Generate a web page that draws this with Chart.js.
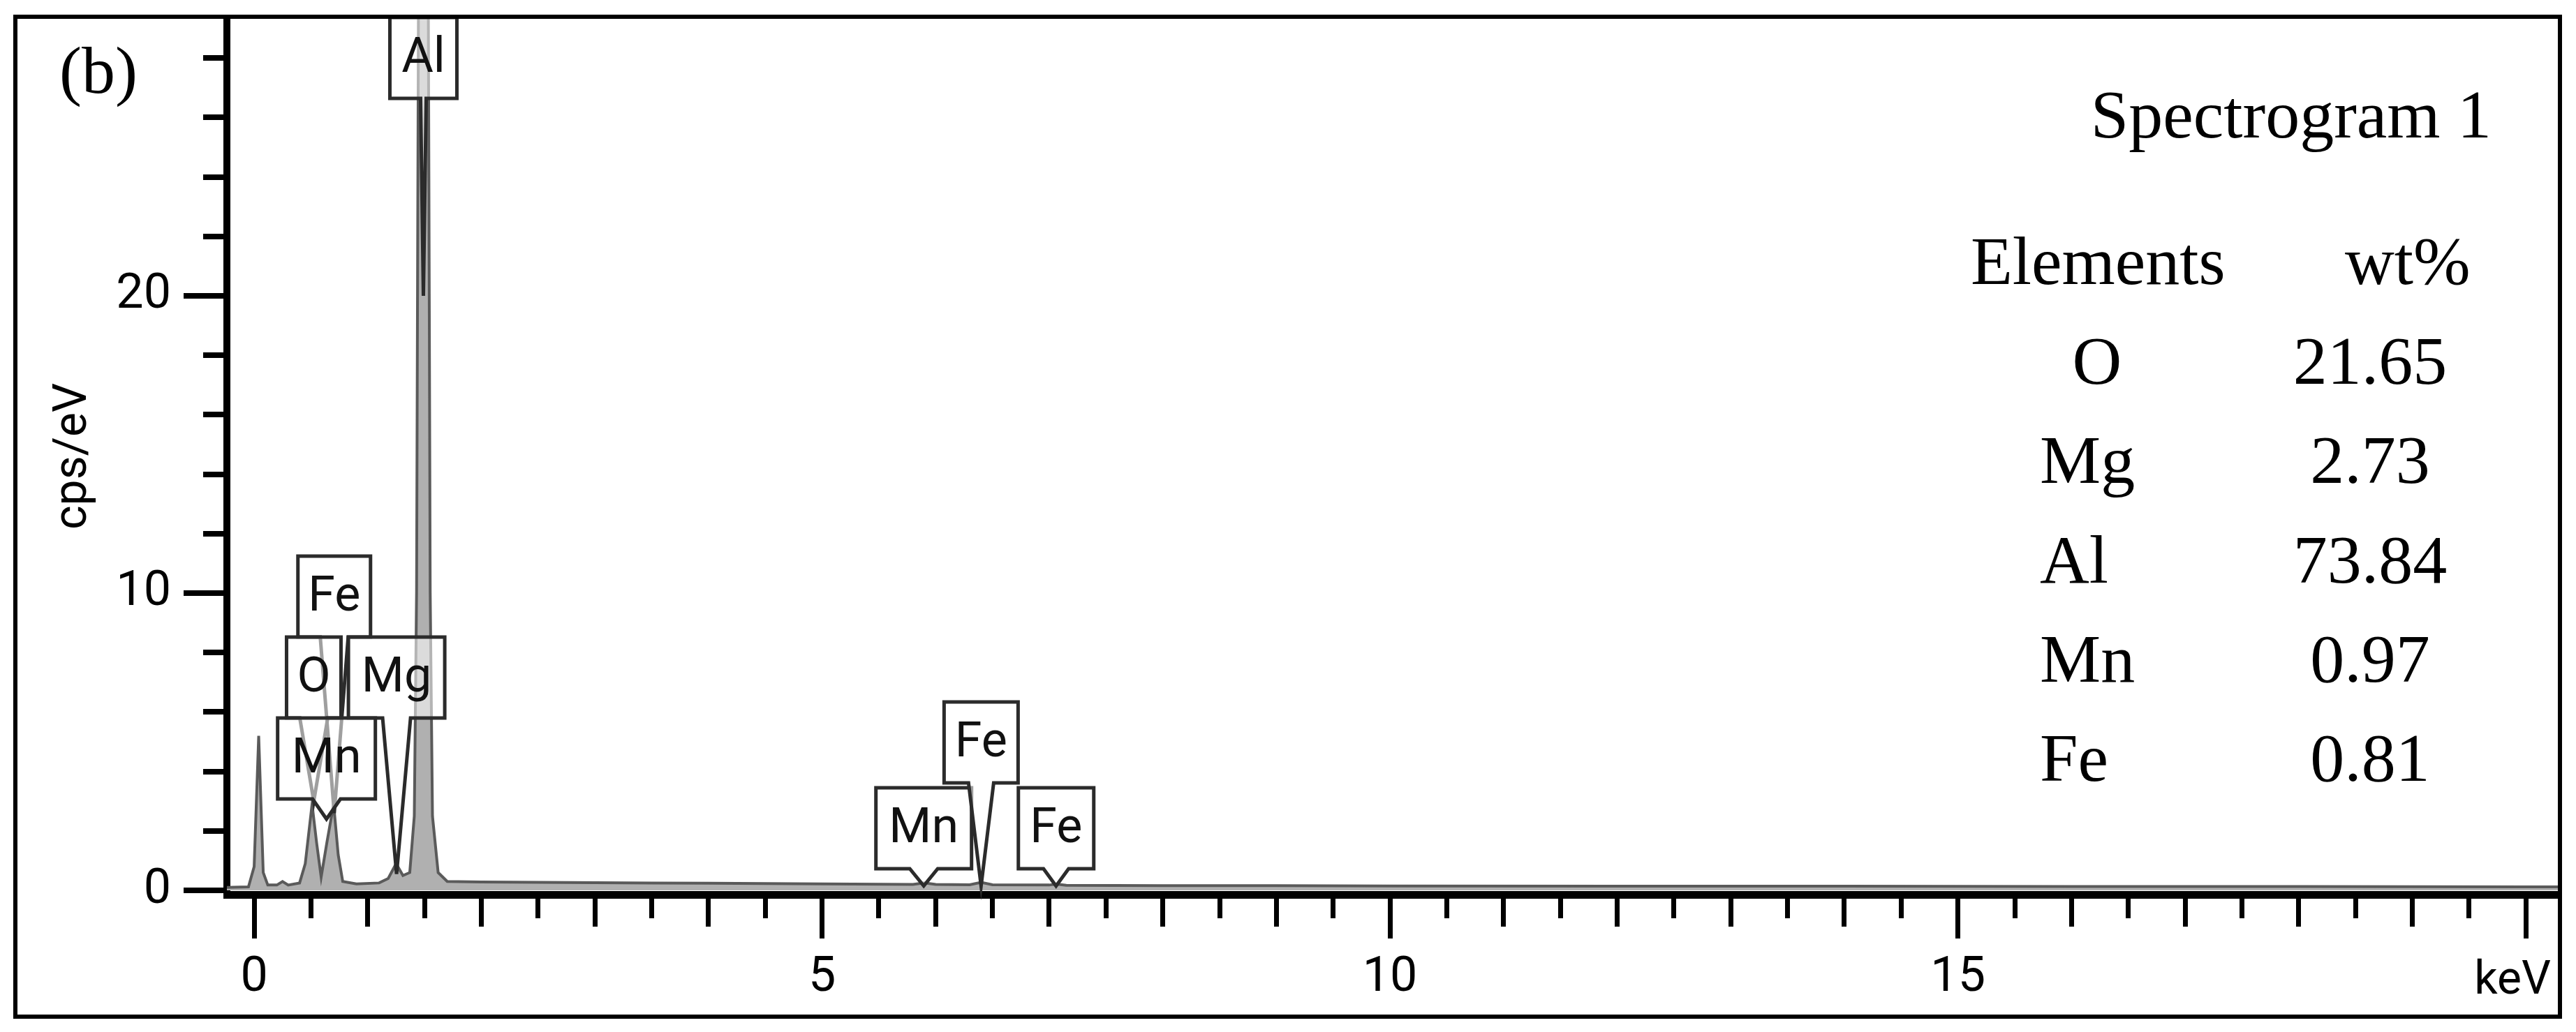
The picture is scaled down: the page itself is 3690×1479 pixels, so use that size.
<!DOCTYPE html>
<html>
<head>
<meta charset="utf-8">
<script src="https://cdn.jsdelivr.net/npm/chart.js@4.4.1/dist/chart.umd.min.js"></script>
<style>
  html, body { margin: 0; padding: 0; background: #fff; }
  #wrap { width: 3690px; height: 1479px; }
</style>
</head>
<body>
<div id="wrap"><canvas id="eds" width="3690" height="1479"></canvas></div>
<script>
/* ===== EDS spectrum (b) ===== */
// spectrum (keV / cps per eV)
const energyKeV = [-0.24, -0.05, 0.00, 0.04, 0.08, 0.12, 0.20, 0.25, 0.30, 0.40,
                   0.45, 0.51, 0.55, 0.59, 0.64, 0.70, 0.74, 0.78, 0.90, 1.10,
                   1.18, 1.25, 1.31, 1.37, 1.41, 1.43, 1.455, 1.49, 1.525, 1.55,
                   1.57, 1.62, 1.70, 2.0, 2.5, 3.0, 3.5, 4.0, 4.5, 5.0,
                   5.8, 5.9, 6.0, 6.3, 6.4, 6.5, 7.0, 7.06, 7.15, 8.0,
                   9.0, 10.0, 12.0, 14.0, 16.0, 18.0, 20.0, 20.4];
const countsCps = [0.10, 0.12, 0.8, 5.2, 0.6, 0.18, 0.18, 0.30, 0.18, 0.25,
                   0.9, 2.9, 1.6, 0.45, 1.6, 2.9, 1.2, 0.30, 0.22, 0.25,
                   0.40, 0.9, 0.5, 0.6, 2.5, 10, 40, 60, 40, 10,
                   2.5, 0.6, 0.30, 0.28, 0.27, 0.26, 0.25, 0.24, 0.23, 0.22,
                   0.20, 0.25, 0.20, 0.19, 0.27, 0.19, 0.18, 0.21, 0.17, 0.16,
                   0.16, 0.15, 0.14, 0.14, 0.13, 0.13, 0.12, 0.12];

const xTickLabels = [0, 5, 10, 15];
const yTickLabels = [0, 10, 20];

// peak labels
const peakNames  = ['Al', 'Fe', 'O', 'Mg', 'Mn', 'Mn', 'Fe', 'Fe'];
const peakEnergy = [1.49, 0.705, 0.525, 1.254, 0.637, 5.895, 6.40, 7.06];
const peakTip    = [20, 2.6, 3.0, 0.55, 2.4, 0.15, 0.15, 0.15];

// quantification table
const elements  = ['O', 'Mg', 'Al', 'Mn', 'Fe'];
const wtPercent = ['21.65', '2.73', '73.84', '0.97', '0.81'];

/* ===== layout (pixels) ===== */
const BOX_H = 116;
const boxBottom = [141, 913, 1029, 1029, 1145, 1245, 1122, 1245];
const boxWidth  = [96, 104, 78, 138, 140, 137, 106, 108];
const boxWedge  = [4, 20, 20, 20, 20, 20, 18, 18];
const rowBase   = [550, 692, 835, 977, 1119];

const SANS  = 'Roboto';
const SERIF = '"Liberation Serif", "Times New Roman", serif';

function isStep(v, s) { return Math.abs(v / s - Math.round(v / s)) < 1e-6; }

function drawCallout(ctx, cx, bottom, w, wedge, tipX, tipY, name) {
  const top = bottom - BOX_H, l = cx - w / 2, r = cx + w / 2;
  ctx.beginPath();
  ctx.moveTo(l, top);
  ctx.lineTo(r, top);
  ctx.lineTo(r, bottom);
  ctx.lineTo(cx + wedge, bottom);
  ctx.lineTo(tipX, tipY);
  ctx.lineTo(cx - wedge, bottom);
  ctx.lineTo(l, bottom);
  ctx.closePath();
  ctx.fillStyle = 'rgba(255,255,255,0.55)';
  ctx.fill();
  ctx.lineWidth = 5;
  ctx.strokeStyle = '#2b2b2b';
  ctx.lineJoin = 'miter';
  ctx.stroke();
  ctx.fillStyle = '#111';
  ctx.font = `70px ${SANS}`;
  ctx.textAlign = 'center';
  ctx.textBaseline = 'middle';
  ctx.fillText(name, cx, bottom - BOX_H / 2 + 2);
}

const decor = {
  id: 'decor',
  afterDatasetsDraw(chart) {
    const { ctx, chartArea, scales: { x, y } } = chart;
    ctx.save();
    ctx.fillStyle = '#000';
    // x tick marks
    const xTop = chartArea.bottom + 5;
    x.ticks.forEach(t => {
      const v = t.value;
      const len = isStep(v, 5) ? 58 : (isStep(v, 1) ? 41 : 29);
      const px = x.getPixelForValue(v);
      ctx.fillRect(Math.round(px - 3.5), xTop, 7, len);
    });
    // y tick marks
    const yRight = chartArea.left - 5;
    y.ticks.forEach(t => {
      const v = t.value;
      const len = isStep(v, 10) ? 57 : 29;
      const py = y.getPixelForValue(v);
      ctx.fillRect(yRight - len, Math.round(py - 4), len, 8);
    });
    // peak callouts
    peakNames.forEach((name, i) => {
      const cx = x.getPixelForValue(peakEnergy[i]);
      const tipY = y.getPixelForValue(peakTip[i]);
      drawCallout(ctx, cx, boxBottom[i], boxWidth[i], boxWedge[i], cx, tipY, name);
    });
    ctx.restore();
  },
  afterDraw(chart) {
    const { ctx } = chart;
    ctx.save();
    // outer frame
    ctx.strokeStyle = '#000';
    ctx.lineWidth = 6;
    ctx.strokeRect(22, 24, 3645, 1433);

    ctx.fillStyle = '#000';
    ctx.font = `96px ${SERIF}`;
    ctx.textAlign = 'center';
    ctx.textBaseline = 'middle';
    ctx.fillText('(b)', 141, 108);

    ctx.textBaseline = 'alphabetic';
    ctx.font = `98px ${SERIF}`;
    ctx.textAlign = 'right';
    ctx.fillText('Spectrogram 1', 3569, 197);
    ctx.textAlign = 'left';
    ctx.fillText('Elements', 2823, 407);
    ctx.fillText('wt%', 3359, 407);
    elements.forEach((el, i) => {
      if (el === 'O') {
        ctx.textAlign = 'center';
        ctx.fillText(el, 3004, rowBase[i]);
      } else {
        ctx.textAlign = 'left';
        ctx.fillText(el, 2922, rowBase[i]);
      }
      ctx.textAlign = 'center';
      ctx.fillText(wtPercent[i], 3395, rowBase[i]);
    });

    // x axis unit
    ctx.font = `66px ${SANS}`;
    ctx.textAlign = 'right';
    ctx.fillText('keV', 3654, 1424);
    ctx.restore();
  }
};

Chart.defaults.font.family = SANS;
Chart.defaults.color = '#000';

const ctx = document.getElementById('eds').getContext('2d');
new Chart(ctx, {
  type: 'line',
  data: {
    datasets: [{
      data: energyKeV.map((e, i) => ({ x: e, y: countsCps[i] })),
      borderColor: '#5a5a5a',
      backgroundColor: '#b0b0b0',
      borderWidth: 4,
      fill: 'origin',
      pointRadius: 0,
      tension: 0
    }]
  },
  options: {
    responsive: false,
    animation: false,
    layout: { padding: { left: 22, right: 23, top: 26, bottom: 22 } },
    plugins: { legend: { display: false }, tooltip: { enabled: false } },
    scales: {
      x: {
        type: 'linear',
        min: -0.24, max: 20.3,
        grid: { display: false, drawTicks: false },
        border: { display: true, color: '#000', width: 11 },
        afterBuildTicks: (scale) => {
          const t = [];
          for (let k = 0; k <= 40; k++) t.push({ value: k / 2 });
          scale.ticks = t;
        },
        afterFit: (scale) => {
          scale.height = 175;
          scale.paddingLeft = 0; scale.paddingRight = 0;
        },
        ticks: {
          autoSkip: false, maxRotation: 0, padding: 78,
          font: { size: 70 }, color: '#000',
          callback: (v) => xTickLabels.includes(v) ? String(v) : ''
        }
      },
      y: {
        min: -0.14, max: 29.34,
        grid: { display: false, drawTicks: false },
        border: { display: true, color: '#000', width: 10 },
        afterBuildTicks: (scale) => {
          const t = [];
          for (let k = 0; k <= 14; k++) t.push({ value: k * 2 });
          scale.ticks = t;
        },
        afterFit: (scale) => {
          scale.width = 303;
          scale.paddingTop = 0; scale.paddingBottom = 0;
        },
        title: { display: true, text: 'cps/eV', font: { size: 66 }, color: '#000', padding: { top: 45, bottom: 0 } },
        ticks: {
          autoSkip: false, padding: 80,
          font: { size: 70 }, color: '#000',
          callback: (v) => yTickLabels.includes(v) ? String(v) : ''
        }
      }
    }
  },
  plugins: [decor]
});
</script>
</body>
</html>
